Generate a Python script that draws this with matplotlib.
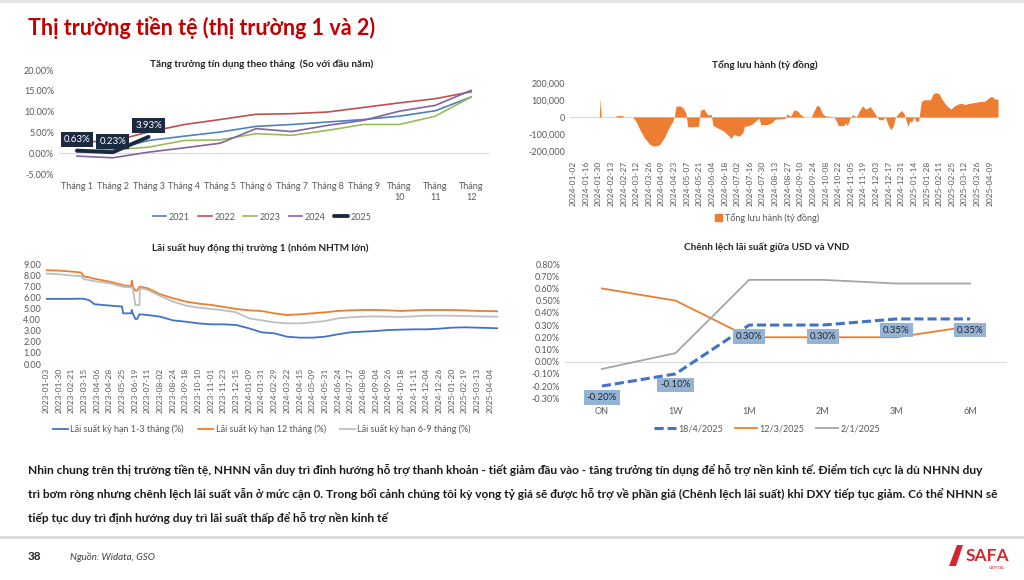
import numpy as np
import matplotlib
matplotlib.use('Agg')
import matplotlib.pyplot as plt
import matplotlib.dates as mdates
from matplotlib.ticker import FuncFormatter
from matplotlib.patches import Rectangle, Polygon
from matplotlib.lines import Line2D

plt.rcParams['font.family'] = ['Lato', 'DejaVu Sans']

# ---- chart 1: tang truong tin dung (% so voi dau nam)
months = ['Tháng 1', 'Tháng 2', 'Tháng 3', 'Tháng 4', 'Tháng 5', 'Tháng 6',
          'Tháng 7', 'Tháng 8', 'Tháng 9', 'Tháng\n10', 'Tháng\n11', 'Tháng\n12']
credit_2021 = [0.3, 0.9, 3.06, 4.1, 5.1, 6.45, 6.9, 7.5, 8.1, 8.9, 10.2, 13.5]
credit_2022 = [2.7, 2.9, 5.1, 6.9, 8.1, 9.35, 9.5, 9.9, 11.0, 12.1, 13.1, 14.75]
credit_2023 = [0.5, 0.8, 1.45, 3.06, 3.2, 4.7, 4.3, 5.5, 6.9, 6.9, 8.9, 13.5]
credit_2024 = [-0.7, -1.1, 0.25, 1.3, 2.4, 5.9, 5.2, 6.7, 7.9, 10.1, 11.5, 15.1]
credit_2025 = [0.63, 0.23, 3.93]

# ---- chart 2: tong luu hanh (ty dong)
flow_ticks = ['2024-01-02', '2024-01-16', '2024-01-30', '2024-02-13', '2024-02-27', '2024-03-12',
              '2024-03-26', '2024-04-09', '2024-04-23', '2024-05-07', '2024-05-21', '2024-06-04',
              '2024-06-18', '2024-07-02', '2024-07-16', '2024-07-30', '2024-08-13', '2024-08-27',
              '2024-09-10', '2024-09-24', '2024-10-08', '2024-10-22', '2024-11-05', '2024-11-19',
              '2024-12-03', '2024-12-17', '2024-12-31', '2025-01-14', '2025-01-28', '2025-02-11',
              '2025-02-25', '2025-03-12', '2025-03-26', '2025-04-09']
flow_dates = ['2024-01-02', '2024-01-31', '2024-02-01', '2024-02-02', '2024-02-18', '2024-02-19',
              '2024-02-26', '2024-02-27', '2024-03-08', '2024-03-12', '2024-03-16', '2024-03-21',
              '2024-03-27', '2024-03-31', '2024-04-04', '2024-04-07', '2024-04-12', '2024-04-18',
              '2024-04-21', '2024-04-23', '2024-04-25', '2024-04-29', '2024-05-03', '2024-05-06',
              '2024-05-08', '2024-05-14', '2024-05-20', '2024-05-22', '2024-05-26', '2024-05-30',
              '2024-06-03', '2024-06-05', '2024-06-12', '2024-06-17', '2024-06-23', '2024-06-25',
              '2024-06-28', '2024-07-04', '2024-07-08', '2024-07-10', '2024-07-15', '2024-07-20',
              '2024-07-26', '2024-07-28', '2024-08-04', '2024-08-09', '2024-08-13', '2024-08-24',
              '2024-08-26', '2024-08-30', '2024-09-03', '2024-09-07', '2024-09-10', '2024-09-14',
              '2024-09-22', '2024-09-24', '2024-09-28', '2024-10-01', '2024-10-04', '2024-10-07',
              '2024-10-17', '2024-10-19', '2024-10-22', '2024-10-28', '2024-10-30', '2024-11-01',
              '2024-11-04', '2024-11-07', '2024-11-11', '2024-11-15', '2024-11-18', '2024-11-21',
              '2024-11-24', '2024-11-26', '2024-11-30', '2024-12-03', '2024-12-06', '2024-12-10',
              '2024-12-13', '2024-12-16', '2024-12-19', '2024-12-22', '2024-12-24', '2024-12-27',
              '2024-12-31', '2025-01-03', '2025-01-07', '2025-01-09', '2025-01-11', '2025-01-14',
              '2025-01-16', '2025-01-19', '2025-01-22', '2025-01-25', '2025-02-01', '2025-02-04',
              '2025-02-07', '2025-02-11', '2025-02-13', '2025-02-17', '2025-02-20', '2025-02-24',
              '2025-02-28', '2025-03-05', '2025-03-09', '2025-03-12', '2025-03-18', '2025-03-23',
              '2025-03-29', '2025-04-03', '2025-04-09', '2025-04-11', '2025-04-15', '2025-04-18']
flow_vals = [0, 0, 112000, 0, 0, 8000,
             8000, 0, 0, -30000, -75000, -123000,
             -163000, -172000, -170000, -163000, -123000, -55000,
             -31000, 0, 63000, 67000, 53000, 24000,
             -59000, -58000, -55000, 40000, 47000, 14000,
             14000, -50000, -70000, -84000, -114000, -129000,
             -104000, -114000, -94000, -55000, -51000, -35000,
             -6000, -45000, -45000, -35000, -12000, -8000,
             18000, 4000, 43000, 35000, 14000, 0,
             0, 24000, 69000, 63000, 24000, 8000,
             0, -16000, -51000, -51000, -35000, -51000,
             -5000, 14000, 0, 43000, 67000, 47000,
             53000, 63000, 33000, 8000, -16000, -16000,
             0, -45000, -75000, -55000, -5000, 18000,
             39000, 18000, -55000, -25000, -31000, 0,
             -25000, -25000, 92000, 102000, 102000, 137000,
             145000, 137000, 112000, 82000, 63000, 47000,
             67000, 78000, 82000, 73000, 82000, 86000,
             92000, 92000, 118000, 122000, 106000, 106000]

# ---- chart 3: lai suat huy dong thi truong 1
rate_ticks = ['2023-01-03', '2023-01-30', '2023-02-21', '2023-03-15', '2023-04-06', '2023-04-28',
              '2023-05-25', '2023-06-19', '2023-07-11', '2023-08-02', '2023-08-24', '2023-09-18',
              '2023-10-10', '2023-11-01', '2023-11-23', '2023-12-15', '2024-01-09', '2024-01-31',
              '2024-02-29', '2024-03-22', '2024-04-15', '2024-05-09', '2024-05-31', '2024-06-24',
              '2024-07-17', '2024-08-08', '2024-09-04', '2024-09-26', '2024-10-18', '2024-11-11',
              '2024-12-04', '2024-12-26', '2025-01-20', '2025-02-19', '2025-03-13', '2025-04-04']
rate_dates = ['2023-01-03', '2023-01-30', '2023-02-21', '2023-03-10', '2023-03-15', '2023-03-24',
              '2023-04-02', '2023-04-06', '2023-04-28', '2023-05-25', '2023-05-27', '2023-06-12',
              '2023-06-13', '2023-06-15', '2023-06-20', '2023-06-23', '2023-06-27', '2023-06-28',
              '2023-07-11', '2023-08-02', '2023-08-24', '2023-09-18', '2023-10-10', '2023-11-01',
              '2023-11-23', '2023-12-15', '2024-01-09', '2024-01-31', '2024-02-29', '2024-03-22',
              '2024-04-15', '2024-05-09', '2024-05-31', '2024-06-24', '2024-07-17', '2024-08-08',
              '2024-09-04', '2024-09-26', '2024-10-18', '2024-11-11', '2024-12-04', '2024-12-26',
              '2025-01-20', '2025-02-19', '2025-03-13', '2025-04-04', '2025-04-18']
rate_1_3m = [5.86, 5.86, 5.86, 5.88, 5.86, 5.74,
             5.38, 5.36, 5.26, 5.17, 4.56, 4.56,
             4.86, 4.56, 4.05, 4.05, 4.47, 4.47,
             4.41, 4.26, 3.93, 3.81, 3.66, 3.57,
             3.57, 3.51, 3.21, 2.85, 2.76, 2.46,
             2.37, 2.37, 2.46, 2.67, 2.85, 2.91,
             2.97, 3.06, 3.09, 3.12, 3.12, 3.18,
             3.27, 3.30, 3.27, 3.24, 3.21]
rate_12m = [8.44, 8.41, 8.32, 8.23, 7.87, 7.80,
            7.68, 7.63, 7.42, 7.12, 7.08, 7.00,
            7.50, 7.00, 6.60, 6.60, 6.95, 6.95,
            6.82, 6.28, 5.92, 5.62, 5.44, 5.32,
            5.14, 4.95, 4.83, 4.77, 4.56, 4.41,
            4.47, 4.56, 4.65, 4.77, 4.83, 4.86,
            4.86, 4.83, 4.77, 4.83, 4.86, 4.86,
            4.86, 4.83, 4.77, 4.77, 4.74]
rate_6_9m = [8.14, 8.08, 7.96, 7.90, 7.63, 7.55,
             7.45, 7.42, 7.27, 6.97, 6.95, 6.90,
             6.88, 6.88, 5.30, 5.30, 5.30, 6.82,
             6.67, 6.13, 5.62, 5.26, 5.08, 4.95,
             4.83, 4.65, 4.11, 3.93, 3.75, 3.66,
             3.66, 3.75, 3.87, 4.11, 4.20, 4.26,
             4.29, 4.26, 4.23, 4.29, 4.35, 4.35,
             4.35, 4.32, 4.29, 4.26, 4.26]

# ---- chart 4: chenh lech lai suat USD - VND (%)
tenors = ['ON', '1W', '1M', '2M', '3M', '6M']
spread_18_4 = [-0.20, -0.10, 0.30, 0.30, 0.35, 0.35]
spread_12_3 = [0.60, 0.50, 0.20, 0.20, 0.20, 0.29]
spread_2_1 = [-0.06, 0.07, 0.67, 0.67, 0.64, 0.64]

TICK_C = '#595959'
LINE_C = '#d9d9d9'


def to_x(dates, ticks):
    # category-style axis: tick labels evenly spaced, dates placed between them
    d = mdates.datestr2num(dates)
    t = mdates.datestr2num(ticks)
    idx = np.arange(len(t))
    x = np.interp(d, t, idx)
    x = np.where(d > t[-1], idx[-1] + (d - t[-1]) / (t[-1] - t[-2]), x)
    return x


def px(x0, y0, x1, y1):
    return [x0 / 1024, 1 - y1 / 580, (x1 - x0) / 1024, (y1 - y0) / 580]


def clean(ax):
    for s in ax.spines.values():
        s.set_visible(False)
    ax.tick_params(length=0, colors=TICK_C, labelsize=6.5)


def fx(x):
    return x / 1024


def fy(y):
    return 1 - y / 580


fig = plt.figure(figsize=(10.24, 5.8), dpi=100)
fig.patches.append(Rectangle((0, fy(2.5)), 1, 2.5 / 580, transform=fig.transFigure,
                             color='#e6e6e6', lw=0))

fig.text(fx(28), fy(28), 'Thị trường tiền tệ (thị trường 1 và 2)', color='#c00000',
         fontsize=15.5, fontweight='bold', va='center', ha='left')

# chart 1
ax1 = fig.add_axes(px(59, 70, 489, 174))
clean(ax1)
xm = np.arange(len(months))
ax1.axhline(0, color=LINE_C, lw=0.8, zorder=0)
ax1.plot(xm, credit_2021, color='#4f81bd', lw=1.2, label='2021')
ax1.plot(xm, credit_2022, color='#c0504d', lw=1.2, label='2022')
ax1.plot(xm, credit_2023, color='#9bbb59', lw=1.2, label='2023')
ax1.plot(xm, credit_2024, color='#8064a2', lw=1.2, label='2024')
ax1.plot(xm[:len(credit_2025)], credit_2025, color='#1b2a40', lw=2.8, label='2025',
         solid_capstyle='round')
for i, v in enumerate(credit_2025):
    ax1.annotate(f'{v:.2f}%', (xm[i], v), xytext=(0, 8), textcoords='offset points',
                 ha='center', va='center', color='white', fontsize=7,
                 bbox=dict(boxstyle='square,pad=0.3', fc='#1b2a40', ec='none'))
ax1.set_xlim(-0.5, len(months) - 0.5)
ax1.set_ylim(-5, 20)
ax1.set_yticks(np.arange(-5, 21, 5))
ax1.yaxis.set_major_formatter(FuncFormatter(lambda v, p: f'{v:.2f}%'))
ax1.set_xticks(xm, months)
ax1.tick_params(axis='x', pad=6)
fig.text(fx(262), fy(64), 'Tăng trưởng tín dụng theo tháng  (So với đầu năm)',
         ha='center', va='center', fontsize=7.2, fontweight='bold', color='#262626')
ax1.legend(loc='center', bbox_to_anchor=(fx(262), fy(217)), bbox_transform=fig.transFigure,
           ncol=5, frameon=False, fontsize=6.5, handlelength=1.5, columnspacing=0.9,
           handletextpad=0.3, labelcolor=TICK_C)

# chart 2
ax2 = fig.add_axes(px(570, 83.3, 998, 150.7))
clean(ax2)
xf = to_x(flow_dates, flow_ticks)
ax2.fill_between(xf, flow_vals, 0, color='#ed7d31', lw=0)
ax2.axhline(0, color=LINE_C, lw=0.8, zorder=0)
ax2.set_xlim(xf.min() - 0.25, xf.max())
ax2.set_ylim(-200000, 200000)
ax2.set_yticks(np.arange(-200000, 200001, 100000))
ax2.yaxis.set_major_formatter(FuncFormatter(lambda v, p: f'{v:,.0f}'))
ax2.set_xticks(np.arange(len(flow_ticks)), flow_ticks, rotation=90)
ax2.tick_params(axis='x', pad=7, labelsize=6)
fig.text(fx(765), fy(65), 'Tổng lưu hành (tỷ đồng)', ha='center', va='center',
         fontsize=7.2, fontweight='bold', color='#262626')
ax2.legend([Rectangle((0, 0), 1, 1, color='#ed7d31')], ['Tổng lưu hành (tỷ đồng)'],
           loc='center', bbox_to_anchor=(fx(767), fy(218)), bbox_transform=fig.transFigure,
           frameon=False, fontsize=6.5, handlelength=0.8, handleheight=0.8,
           handletextpad=0.4, labelcolor=TICK_C)

# chart 3
ax3 = fig.add_axes(px(46, 264, 498, 364))
clean(ax3)
xr = to_x(rate_dates, rate_ticks)
ax3.axhline(0, color=LINE_C, lw=0.8, zorder=0)
ax3.plot(xr, rate_1_3m, color='#4472c4', lw=1.3, label='Lãi suất kỳ hạn 1-3 tháng (%)')
ax3.plot(xr, rate_12m, color='#ed7d31', lw=1.3, label='Lãi suất kỳ hạn 12 tháng (%)')
ax3.plot(xr, rate_6_9m, color='#bfbfbf', lw=1.3, label='Lãi suất kỳ hạn 6-9 tháng (%)')
ax3.set_xlim(0, xr.max())
ax3.set_ylim(0, 9)
ax3.set_yticks(np.arange(0, 10, 1))
ax3.yaxis.set_major_formatter(FuncFormatter(lambda v, p: f'{v:.2f}'))
ax3.set_xticks(np.arange(len(rate_ticks)), rate_ticks, rotation=90)
ax3.tick_params(axis='x', pad=3, labelsize=6)
fig.text(fx(260), fy(248), 'Lãi suất huy động thị trường 1 (nhóm NHTM lớn)',
         ha='center', va='center', fontsize=7.2, fontweight='bold', color='#262626')
ax3.legend(loc='center', bbox_to_anchor=(fx(262), fy(429)), bbox_transform=fig.transFigure,
           ncol=3, frameon=False, fontsize=6.5, handlelength=1.6, columnspacing=1.6,
           handletextpad=0.3, labelcolor=TICK_C)

# chart 4
ax4 = fig.add_axes(px(565, 264, 1007, 398.3))
clean(ax4)
xt = np.arange(len(tenors))
ax4.axhline(0, color=LINE_C, lw=0.8, zorder=0)
ax4.plot(xt, spread_12_3, color='#ed7d31', lw=1.3, label='12/3/2025', zorder=2)
ax4.plot(xt, spread_2_1, color='#a5a5a5', lw=1.3, label='2/1/2025', zorder=2)
ax4.plot(xt, spread_18_4, color='#4472c4', lw=2.2, dashes=(3, 1.3), label='18/4/2025', zorder=3)
for i, v in enumerate(spread_18_4):
    ax4.annotate(f'{v:.2f}%', (xt[i], v), xytext=(0, -8), textcoords='offset points',
                 ha='center', va='center', color='#262626', fontsize=7, zorder=4,
                 bbox=dict(boxstyle='square,pad=0.3', fc='#95b3d7', ec='none'))
ax4.set_xlim(-0.5, len(tenors) - 0.5)
ax4.set_ylim(-0.3, 0.8)
ax4.set_yticks(np.round(np.arange(-0.3, 0.81, 0.1), 2))
ax4.yaxis.set_major_formatter(FuncFormatter(lambda v, p: f'{round(v, 2) + 0:.2f}%'))
ax4.set_xticks(xt, tenors)
ax4.tick_params(axis='x', pad=6)
fig.text(fx(767), fy(247), 'Chênh lệch lãi suất giữa USD và VND', ha='center', va='center',
         fontsize=7.2, fontweight='bold', color='#262626')
h = ax4.get_legend_handles_labels()
order = [2, 0, 1]
ax4.legend([h[0][k] for k in order], [h[1][k] for k in order], loc='center',
           bbox_to_anchor=(fx(767), fy(429)), bbox_transform=fig.transFigure,
           ncol=3, frameon=False, fontsize=6.5, handlelength=2.4, columnspacing=1.3,
           handletextpad=0.3, labelcolor=TICK_C)

# commentary
body = ['Nhìn chung trên thị trường tiền tệ, NHNN vẫn duy trì đinh hướng hỗ trợ thanh khoản - tiết giảm đầu vào - tăng trưởng tín dụng để hỗ trợ nền kinh tế. Điểm tích cực là dù NHNN duy',
        'trì bơm ròng nhưng chênh lệch lãi suất vẫn ở mức cận 0. Trong bối cảnh chúng tôi kỳ vọng tỷ giá sẽ được hỗ trợ về phần giá (Chênh lệch lãi suất) khi DXY tiếp tục giảm. Có thể NHNN sẽ',
        'tiếp tục duy trì định hướng duy trì lãi suất thấp để hỗ trợ nền kinh tế']
for k, line in enumerate(body):
    fig.text(fx(28), fy(470 + 24 * k), line, ha='left', va='center', fontsize=8.6,
             fontweight='bold', color='#1a1a1a')

fig.add_artist(Line2D([0, 1], [fy(537), fy(537)], color='#d9d9d9', lw=2,
                      transform=fig.transFigure))
fig.text(fx(28), fy(557), '38', ha='left', va='center', fontsize=8.5, fontweight='bold',
         color='#262626')
fig.text(fx(70), fy(557), 'Nguồn: Widata, GSO', ha='left', va='center', fontsize=7,
         style='italic', color='#404040')

# logo
fig.patches.append(Polygon([(fx(949), fy(566)), (fx(956), fy(566)), (fx(963), fy(545)),
                            (fx(957), fy(545))], closed=True, transform=fig.transFigure,
                           color='#d0282e', lw=0))
fig.text(fx(987), fy(556), 'SAFA', ha='center', va='center', fontsize=12.5, fontweight='bold',
         color='#d0282e')
fig.text(fx(997), fy(568), 'CAPITAL', ha='center', va='center', fontsize=3, color='#d0282e')

fig.savefig('out.png', dpi=100)
